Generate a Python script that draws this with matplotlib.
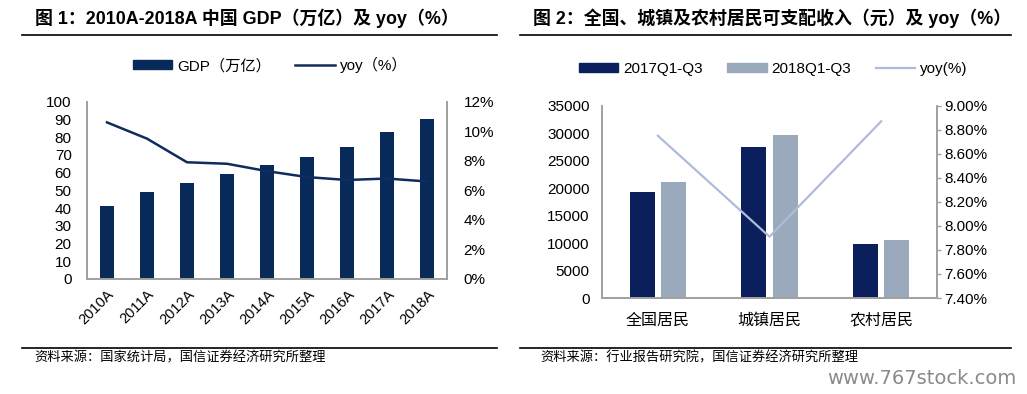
import numpy as np
import matplotlib
matplotlib.use("Agg")
import matplotlib.pyplot as plt
from matplotlib.lines import Line2D
from matplotlib.patches import Patch

plt.rcParams['font.family'] = ['Liberation Sans', 'Noto Sans CJK SC', 'DejaVu Sans']

# chart 1 data
years = ['2010A', '2011A', '2012A', '2013A', '2014A', '2015A', '2016A', '2017A', '2018A']
gdp = [41.3, 48.9, 54.0, 59.5, 64.4, 68.9, 74.4, 82.7, 90.0]
gdp_yoy = [10.6, 9.5, 7.9, 7.8, 7.3, 6.9, 6.7, 6.8, 6.6]

# chart 2 data
groups = ['全国居民', '城镇居民', '农村居民']
inc_2017 = [19342, 27430, 9778]
inc_2018 = [21035, 29599, 10645]
inc_yoy = [8.75, 7.91, 8.87]

W, H = 1027, 394
fig = plt.figure(figsize=(W / 100, H / 100), dpi=100)


def fx(x):
    return x / W


def fy(y):
    return 1 - y / H


def rect(x0, y0, x1, y1):
    return [fx(x0), fy(y1), fx(x1) - fx(x0), fy(y0) - fy(y1)]


axis_col = '#a0a0a0'
navy = '#082a5a'

# ---- titles, rules, sources ----
fig.text(fx(35), fy(18), '图 1：2010A-2018A 中国 GDP（万亿）及 yoy（%）', fontsize=12.9,
         fontweight='bold', va='center', ha='left')
fig.text(fx(533), fy(18), '图 2：全国、城镇及农村居民可支配收入（元）及 yoy（%）', fontsize=12.9,
         fontweight='bold', va='center', ha='left')
for x0, x1 in [(22, 497), (520, 1011)]:
    for y in (35, 348):
        fig.add_artist(Line2D([fx(x0), fx(x1)], [fy(y), fy(y)], color='black', lw=1.2))
fig.text(fx(34), fy(358), '资料来源：国家统计局，国信证券经济研究所整理', fontsize=9.5,
         va='center', ha='left', family=['Noto Sans CJK SC'])
fig.text(fx(540), fy(358), '资料来源：行业报告研究院，国信证券经济研究所整理', fontsize=9.5,
         va='center', ha='left', family=['Noto Sans CJK SC'])
fig.text(fx(1016), fy(378), 'www.767stock.com', fontsize=14, color='#8a8a8a',
         va='center', ha='right', family=['Liberation Sans Narrow', 'DejaVu Sans'])

# ---- chart 1 ----
ax1 = fig.add_axes(rect(87, 101.7, 447, 279))
x = np.arange(len(years))
ax1.bar(x, gdp, width=0.35, color=navy)
ax1.set_xlim(-0.5, len(years) - 0.5)
ax1.set_ylim(0, 100)
ax1.set_yticks(np.arange(0, 101, 10))
ax1.set_xticks(x)
ax1.set_xticklabels(years, rotation=45, ha='right', va='top', rotation_mode='anchor')
ax1.tick_params(axis='both', length=0, labelsize=11)
ax1.tick_params(axis='y', pad=11)
ax1.tick_params(axis='x', pad=6, labelsize=10.5)
for s in ['top']:
    ax1.spines[s].set_visible(False)
for s in ['left', 'right', 'bottom']:
    ax1.spines[s].set_color(axis_col)
    ax1.spines[s].set_linewidth(1.2)
ax1r = ax1.twinx()
ax1r.plot(x, gdp_yoy, color='#102c5c', lw=1.8)
ax1r.set_ylim(0, 12)
ax1r.set_yticks(np.arange(0, 13, 2))
ax1r.yaxis.set_major_formatter(lambda v, p: f'{v:.0f}%')
ax1r.tick_params(axis='y', length=0, labelsize=11, pad=12)
ax1r.spines['top'].set_visible(False)
for s in ['left', 'right', 'bottom']:
    ax1r.spines[s].set_color(axis_col)
    ax1r.spines[s].set_linewidth(1.2)

h1 = [Patch(color=navy), Line2D([], [], color='#102c5c', lw=1.8)]
fig.legend(h1, ['GDP（万亿）', 'yoy（%）'], loc='center', bbox_to_anchor=(fx(270), fy(65)),
           ncol=2, frameon=False, fontsize=11, handlelength=2.6, handleheight=0.55,
           columnspacing=1.6, handletextpad=0.3)

# ---- chart 2 ----
ax2 = fig.add_axes(rect(602, 105.7, 937, 298))
g = np.arange(len(groups))
c17, c18 = '#0b1f5c', '#9aa9bb'
ax2.bar(g - 0.141, inc_2017, width=0.224, color=c17)
ax2.bar(g + 0.141, inc_2018, width=0.224, color=c18)
ax2.set_xlim(-0.5, len(groups) - 0.5)
ax2.set_ylim(0, 35000)
ax2.set_yticks(np.arange(0, 35001, 5000))
ax2.set_xticks(g)
ax2.set_xticklabels(groups, family=['Noto Sans CJK SC'], fontsize=11.5)
ax2.tick_params(axis='both', length=0, labelsize=11)
ax2.tick_params(axis='y', pad=9)
ax2.tick_params(axis='x', pad=10, labelsize=11.5)
ax2.spines['top'].set_visible(False)
for s in ['left', 'right', 'bottom']:
    ax2.spines[s].set_color(axis_col)
    ax2.spines[s].set_linewidth(1.2)
ax2r = ax2.twinx()
ax2r.plot(g, inc_yoy, color='#aebcd9', lw=1.6)
ax2r.set_ylim(7.4, 9.0)
ax2r.set_yticks(np.arange(7.4, 9.001, 0.2))
ax2r.yaxis.set_major_formatter(lambda v, p: f'{v:.2f}%')
ax2r.tick_params(axis='y', length=3, width=1, color=axis_col, labelsize=11, pad=2)
ax2r.spines['top'].set_visible(False)
for s in ['left', 'right', 'bottom']:
    ax2r.spines[s].set_color(axis_col)
    ax2r.spines[s].set_linewidth(1.2)

h2 = [Patch(color=c17), Patch(color=c18), Line2D([], [], color='#aebcd9', lw=1.6)]
fig.legend(h2, ['2017Q1-Q3', '2018Q1-Q3', 'yoy(%)'], loc='center',
           bbox_to_anchor=(fx(773), fy(69)), ncol=3, frameon=False, fontsize=11,
           handlelength=2.6, handleheight=0.55, columnspacing=1.6, handletextpad=0.3)

fig.savefig('out.png', dpi=100)
